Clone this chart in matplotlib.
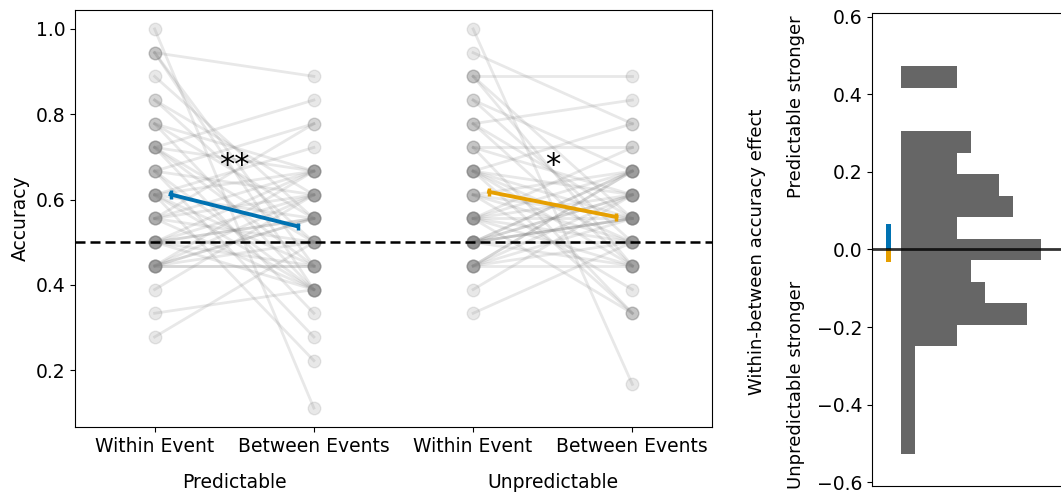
import matplotlib
matplotlib.use("Agg")
import matplotlib.pyplot as plt
import matplotlib.transforms as mtransforms
import numpy as np

N_TRIALS = 18

# correct trials (out of 18) per participant, paired within/between
pred_within = [18, 17, 17, 17, 16, 15, 15, 14, 14, 14, 13, 13, 13, 13, 13, 12, 12, 12, 12,
               11, 11, 11, 11, 11, 11, 10, 10, 10, 10, 10, 9, 9, 9, 9, 9, 9, 9,
               8, 8, 8, 8, 8, 8, 8, 7, 6, 5]
pred_between = [2, 16, 8, 7, 10, 11, 9, 12, 7, 10, 15, 12, 8, 6, 9, 14, 7, 11, 5,
                13, 12, 8, 10, 7, 4, 14, 11, 9, 7, 12, 12, 10, 8, 11, 9, 7, 10,
                12, 11, 9, 10, 8, 8, 10, 11, 7, 9]
unpred_within = [18, 17, 16, 16, 16, 15, 15, 14, 14, 14, 13, 13, 13, 12, 12, 12, 12, 12, 12,
                 11, 11, 11, 11, 10, 10, 10, 10, 10, 10, 10, 9, 9, 9, 9, 9, 9, 9, 9, 9,
                 8, 8, 8, 8, 8, 8, 7, 6]
unpred_between = [3, 14, 16, 10, 8, 12, 9, 15, 10, 8, 13, 11, 6, 14, 10, 9, 11, 8, 6,
                  12, 10, 9, 7, 13, 12, 11, 10, 9, 8, 6, 12, 11, 10, 10, 9, 12, 8, 11, 10,
                  12, 11, 10, 9, 8, 12, 11, 9]

tick_labels = ["Within Event", "Between Events", "Within Event", "Between Events"]
group_labels = ["Predictable", "Unpredictable"]
pred_mean = [0.612, 0.537]
pred_sem = [0.010, 0.009]
unpred_mean = [0.618, 0.559]
unpred_sem = [0.010, 0.009]
stars = ["**", "*"]
star_y = 0.68

# histogram of within-between effect difference (predictable - unpredictable)
hist_bins = np.arange(-9.5, 9.5, 1) / N_TRIALS
hist_centers = np.arange(-9, 9) / N_TRIALS
hist_counts = [1, 1, 1, 1, 1, 4, 9, 6, 5, 10, 4, 8, 7, 4, 5, 0, 0, 4]
effect_pred = 0.066
effect_unpred = -0.033

BLUE = "#0072B2"
ORANGE = "#E69F00"

fig = plt.figure(figsize=(10.61, 4.94), dpi=100)
ax = fig.add_axes([75 / 1061, 1 - 427 / 494, 637 / 1061, 417 / 494])
ax2 = fig.add_axes([872 / 1061, 1 - 486 / 494, 218 / 1061, 473 / 494])

for w, b in zip(pred_within, pred_between):
    ax.plot([0, 1], [w / N_TRIALS, b / N_TRIALS], "o-", color="gray", alpha=0.18,
            lw=2, ms=9)
for w, b in zip(unpred_within, unpred_between):
    ax.plot([2, 3], [w / N_TRIALS, b / N_TRIALS], "o-", color="gray", alpha=0.18,
            lw=2, ms=9)

ax.axhline(0.5, color="k", ls=(0, (4, 2)), lw=1.8, zorder=5)

ax.errorbar([0.1, 0.9], pred_mean, yerr=pred_sem, color=BLUE, lw=2.8,
            elinewidth=2.5, capsize=0, zorder=6)
ax.errorbar([2.1, 2.9], unpred_mean, yerr=unpred_sem, color=ORANGE, lw=2.8,
            elinewidth=2.5, capsize=0, zorder=6)

for x, s in zip([0.5, 2.5], stars):
    ax.text(x, star_y, s, fontsize=22, ha="center", va="center")

ax.set_xlim(-0.5, 3.5)
ax.set_xticks(range(4))
ax.set_xticklabels(tick_labels, fontsize=13.5)
ax.tick_params(axis="y", labelsize=13.5)
ax.set_yticks([0.2, 0.4, 0.6, 0.8, 1.0])
ax.set_ylabel("Accuracy", fontsize=13.5)

trans = mtransforms.blended_transform_factory(ax.transData, ax.transAxes)
for x, lab in zip([0.5, 2.5], group_labels):
    ax.text(x, -0.132, lab, transform=trans, ha="center", va="center", fontsize=13.5)

# right panel
ax2.hist(hist_centers, bins=hist_bins, weights=hist_counts, orientation="horizontal",
         histtype="bar", rwidth=1.0, color="#666666", edgecolor="none", lw=0)
ax2.bar([-0.86], [effect_pred], width=0.36, color=BLUE)
ax2.bar([-0.86], [effect_unpred], width=0.36, color=ORANGE)
ax2.axhline(0, color="k", lw=2, alpha=0.8)
ax2.set_xlim(-2.07, 13.5)
ax2.set_ylim(-0.61, 0.61)
ax2.set_xticks([])
ax2.set_yticks(np.arange(-0.6, 0.61, 0.2))
ax2.tick_params(axis="y", labelsize=13.5)

fig.text(757 / 1061, 1 - 252 / 494, "Within-between accuracy effect", rotation=90,
         ha="center", va="center", fontsize=13)
fig.text(796 / 1061, 1 - 107 / 494, "Predictable stronger", rotation=90,
         ha="center", va="center", fontsize=13)
fig.text(796 / 1061, 1 - 385 / 494, "Unpredictable stronger", rotation=90,
         ha="center", va="center", fontsize=13)

fig.savefig("out.png", dpi=100)
plt.close(fig)
